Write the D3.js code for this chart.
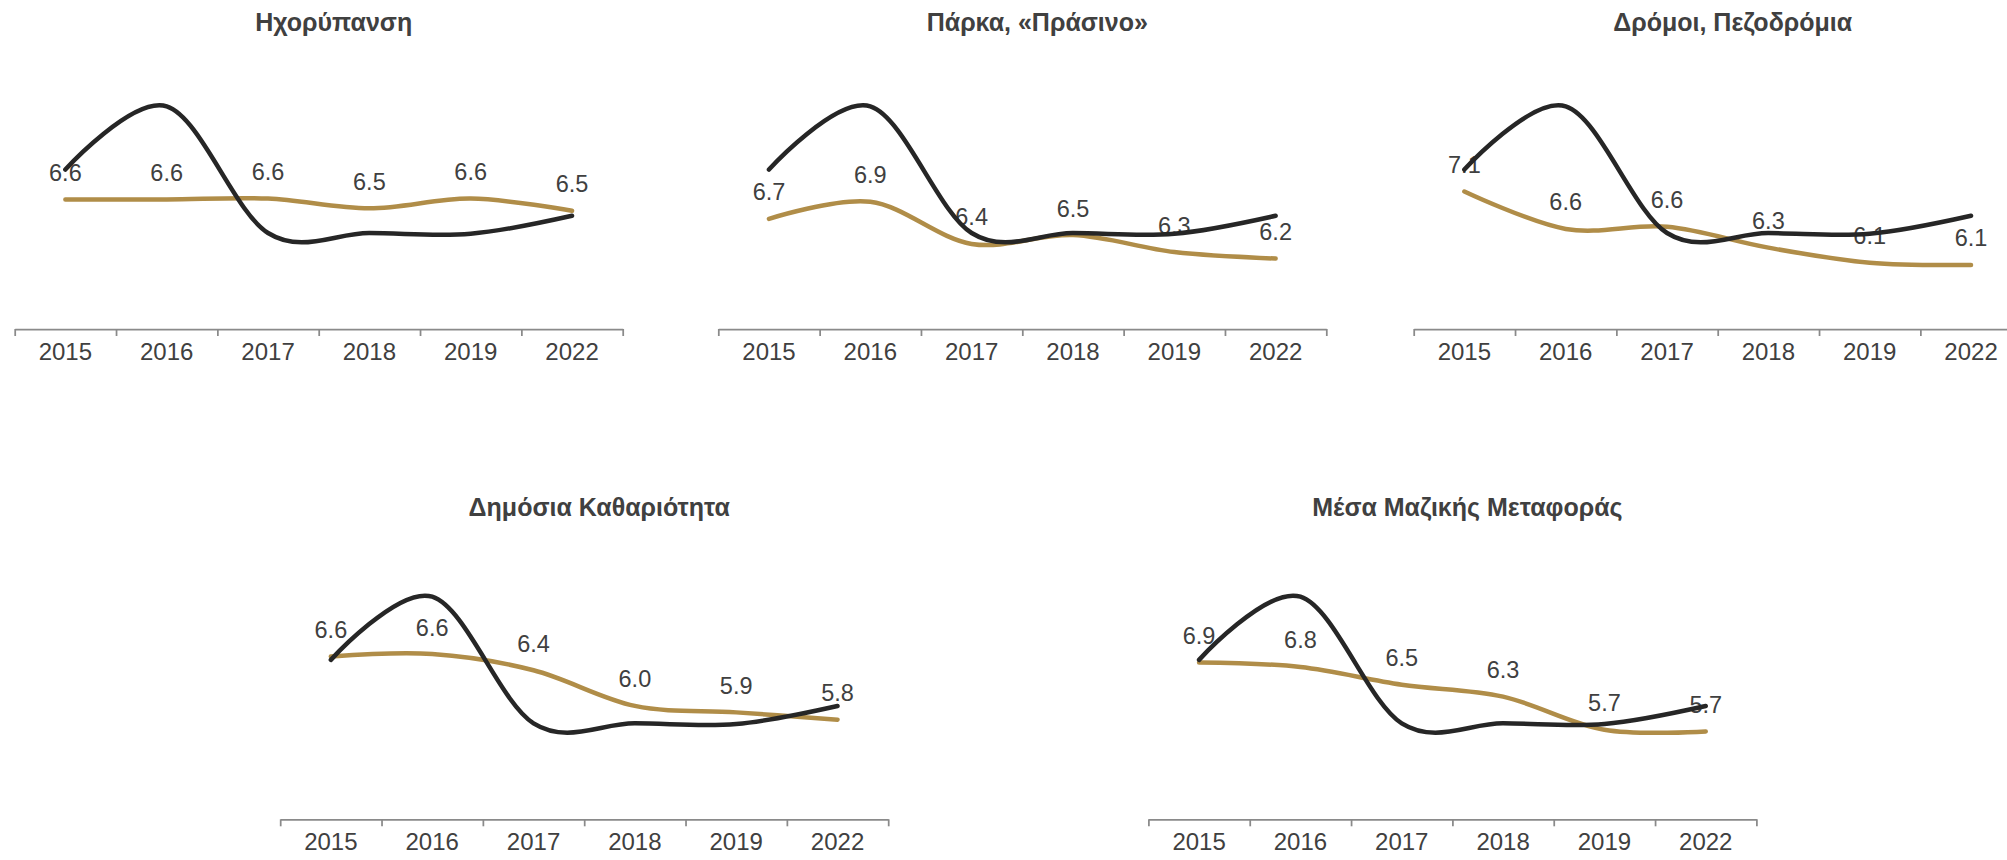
<!DOCTYPE html>
<html>
<head>
<meta charset="utf-8">
<script src="https://cdn.jsdelivr.net/npm/d3@7"></script>
<style>
  body { margin: 0; background: #fff; }
  svg { display: block; font-family: "Liberation Sans", Arial, sans-serif; }
</style>
</head>
<body>
<div id="chart"></div>
<script>
// categories
const years = ['2015', '2016', '2017', '2018', '2019', '2022'];

// panel titles
const panelTitles = [
    'Ηχορύπανση',
    'Πάρκα, «Πράσινο»',
    'Δρόμοι, Πεζοδρόμια',
    'Δημόσια Καθαριότητα',
    'Μέσα Μαζικής Μεταφοράς'
];

// labelled (gold) series, one per panel
const ixorypansi = [6.60, 6.60, 6.61, 6.49, 6.61, 6.46];
const parka = [6.69, 6.90, 6.38, 6.49, 6.28, 6.20];
const dromoi = [7.10, 6.58, 6.61, 6.32, 6.11, 6.08];
const kathariotita = [6.60, 6.63, 6.43, 5.99, 5.91, 5.82];
const mmm = [6.90, 6.82, 6.51, 6.30, 5.72, 5.69];
const goldSeries = [ixorypansi, parka, dromoi, kathariotita, mmm];

// unlabelled (dark) series, same in every panel, on a hidden 0-10 secondary axis
const darkSeries = [6.56, 9.16, 3.95, 3.95, 3.92, 4.66];
const darkDomain = [0, 10];

// hidden value-axis ranges of each panel
const yDomains = [[5.0, 8.0], [5.33, 8.33], [5.19, 8.565], [4.59, 7.59], [4.15, 8.41]];

const W = 2007, H = 860;
const plotW = 608, plotH = 243;
const panels = [
    { x: 14.7, axisY: 329, titleY: 31 },
    { x: 718.3, axisY: 329, titleY: 31 },
    { x: 1413.7, axisY: 329, titleY: 31 },
    { x: 280.2, axisY: 819.3, titleY: 515.5 },
    { x: 1148.4, axisY: 819.3, titleY: 515.5 }
];

const gold = '#b08d48';
const dark = '#262626';
const textCol = '#404040';
const axisCol = '#8a8a8a';

const svg = d3.select('#chart').append('svg')
    .attr('width', W)
    .attr('height', H);

svg.append('rect').attr('width', W).attr('height', H).attr('fill', '#fff');

panels.forEach((p, i) => {
    const g = svg.append('g').attr('transform', 'translate(' + p.x + ',0)');

    const x = d3.scaleBand().domain(years).range([0, plotW]);
    const xEdge = d3.scaleLinear().domain([0, years.length]).range([0, plotW]);
    const y = d3.scaleLinear().domain(yDomains[i]).range([p.axisY, p.axisY - plotH]);
    const y2 = d3.scaleLinear().domain(darkDomain).range([p.axisY, p.axisY - plotH]);
    const cx = d => x(d) + x.bandwidth() / 2;

    // title
    g.append('text')
        .attr('x', plotW / 2 + 15)
        .attr('y', p.titleY)
        .attr('text-anchor', 'middle')
        .attr('fill', textCol)
        .style('font-size', '25px')
        .style('font-weight', 'bold')
        .text(panelTitles[i]);

    // axis line + boundary ticks
    const edgeAxis = g.append('g')
        .attr('transform', 'translate(0,' + p.axisY + ')')
        .call(d3.axisBottom(xEdge).tickValues(d3.range(years.length + 1)).tickSize(7).tickSizeOuter(0).tickFormat(''));
    edgeAxis.selectAll('path, line').attr('stroke', axisCol).attr('stroke-width', 1.75);

    // category labels
    const labAxis = g.append('g')
        .attr('transform', 'translate(0,' + p.axisY + ')')
        .call(d3.axisBottom(x).tickSize(0).tickPadding(14));
    labAxis.select('.domain').remove();
    labAxis.selectAll('text')
        .attr('fill', textCol)
        .style('font-size', '24px')
        .style('font-family', '"Liberation Sans", Arial, sans-serif');

    const data = years.map((yr, k) => ({ yr: yr, v: goldSeries[i][k], d: darkSeries[k] }));

    // gold line
    g.append('path')
        .datum(data)
        .attr('fill', 'none')
        .attr('stroke', gold)
        .attr('stroke-width', 4.5)
        .attr('stroke-linecap', 'round')
        .attr('d', d3.line().x(d => cx(d.yr)).y(d => y(d.v)).curve(d3.curveCardinal.tension(0)));

    // value labels
    g.selectAll('.val')
        .data(data)
        .enter().append('text')
        .attr('class', 'val')
        .attr('x', d => cx(d.yr))
        .attr('y', d => y(d.v) - 18.5)
        .attr('text-anchor', 'middle')
        .attr('fill', textCol)
        .style('font-size', '23.5px')
        .text(d => d.v.toFixed(1));

    // dark line
    g.append('path')
        .datum(data)
        .attr('fill', 'none')
        .attr('stroke', dark)
        .attr('stroke-width', 4.5)
        .attr('stroke-linecap', 'round')
        .attr('d', d3.line().x(d => cx(d.yr)).y(d => y2(d.d)).curve(d3.curveCardinal.tension(0)));
});
</script>
</body>
</html>
